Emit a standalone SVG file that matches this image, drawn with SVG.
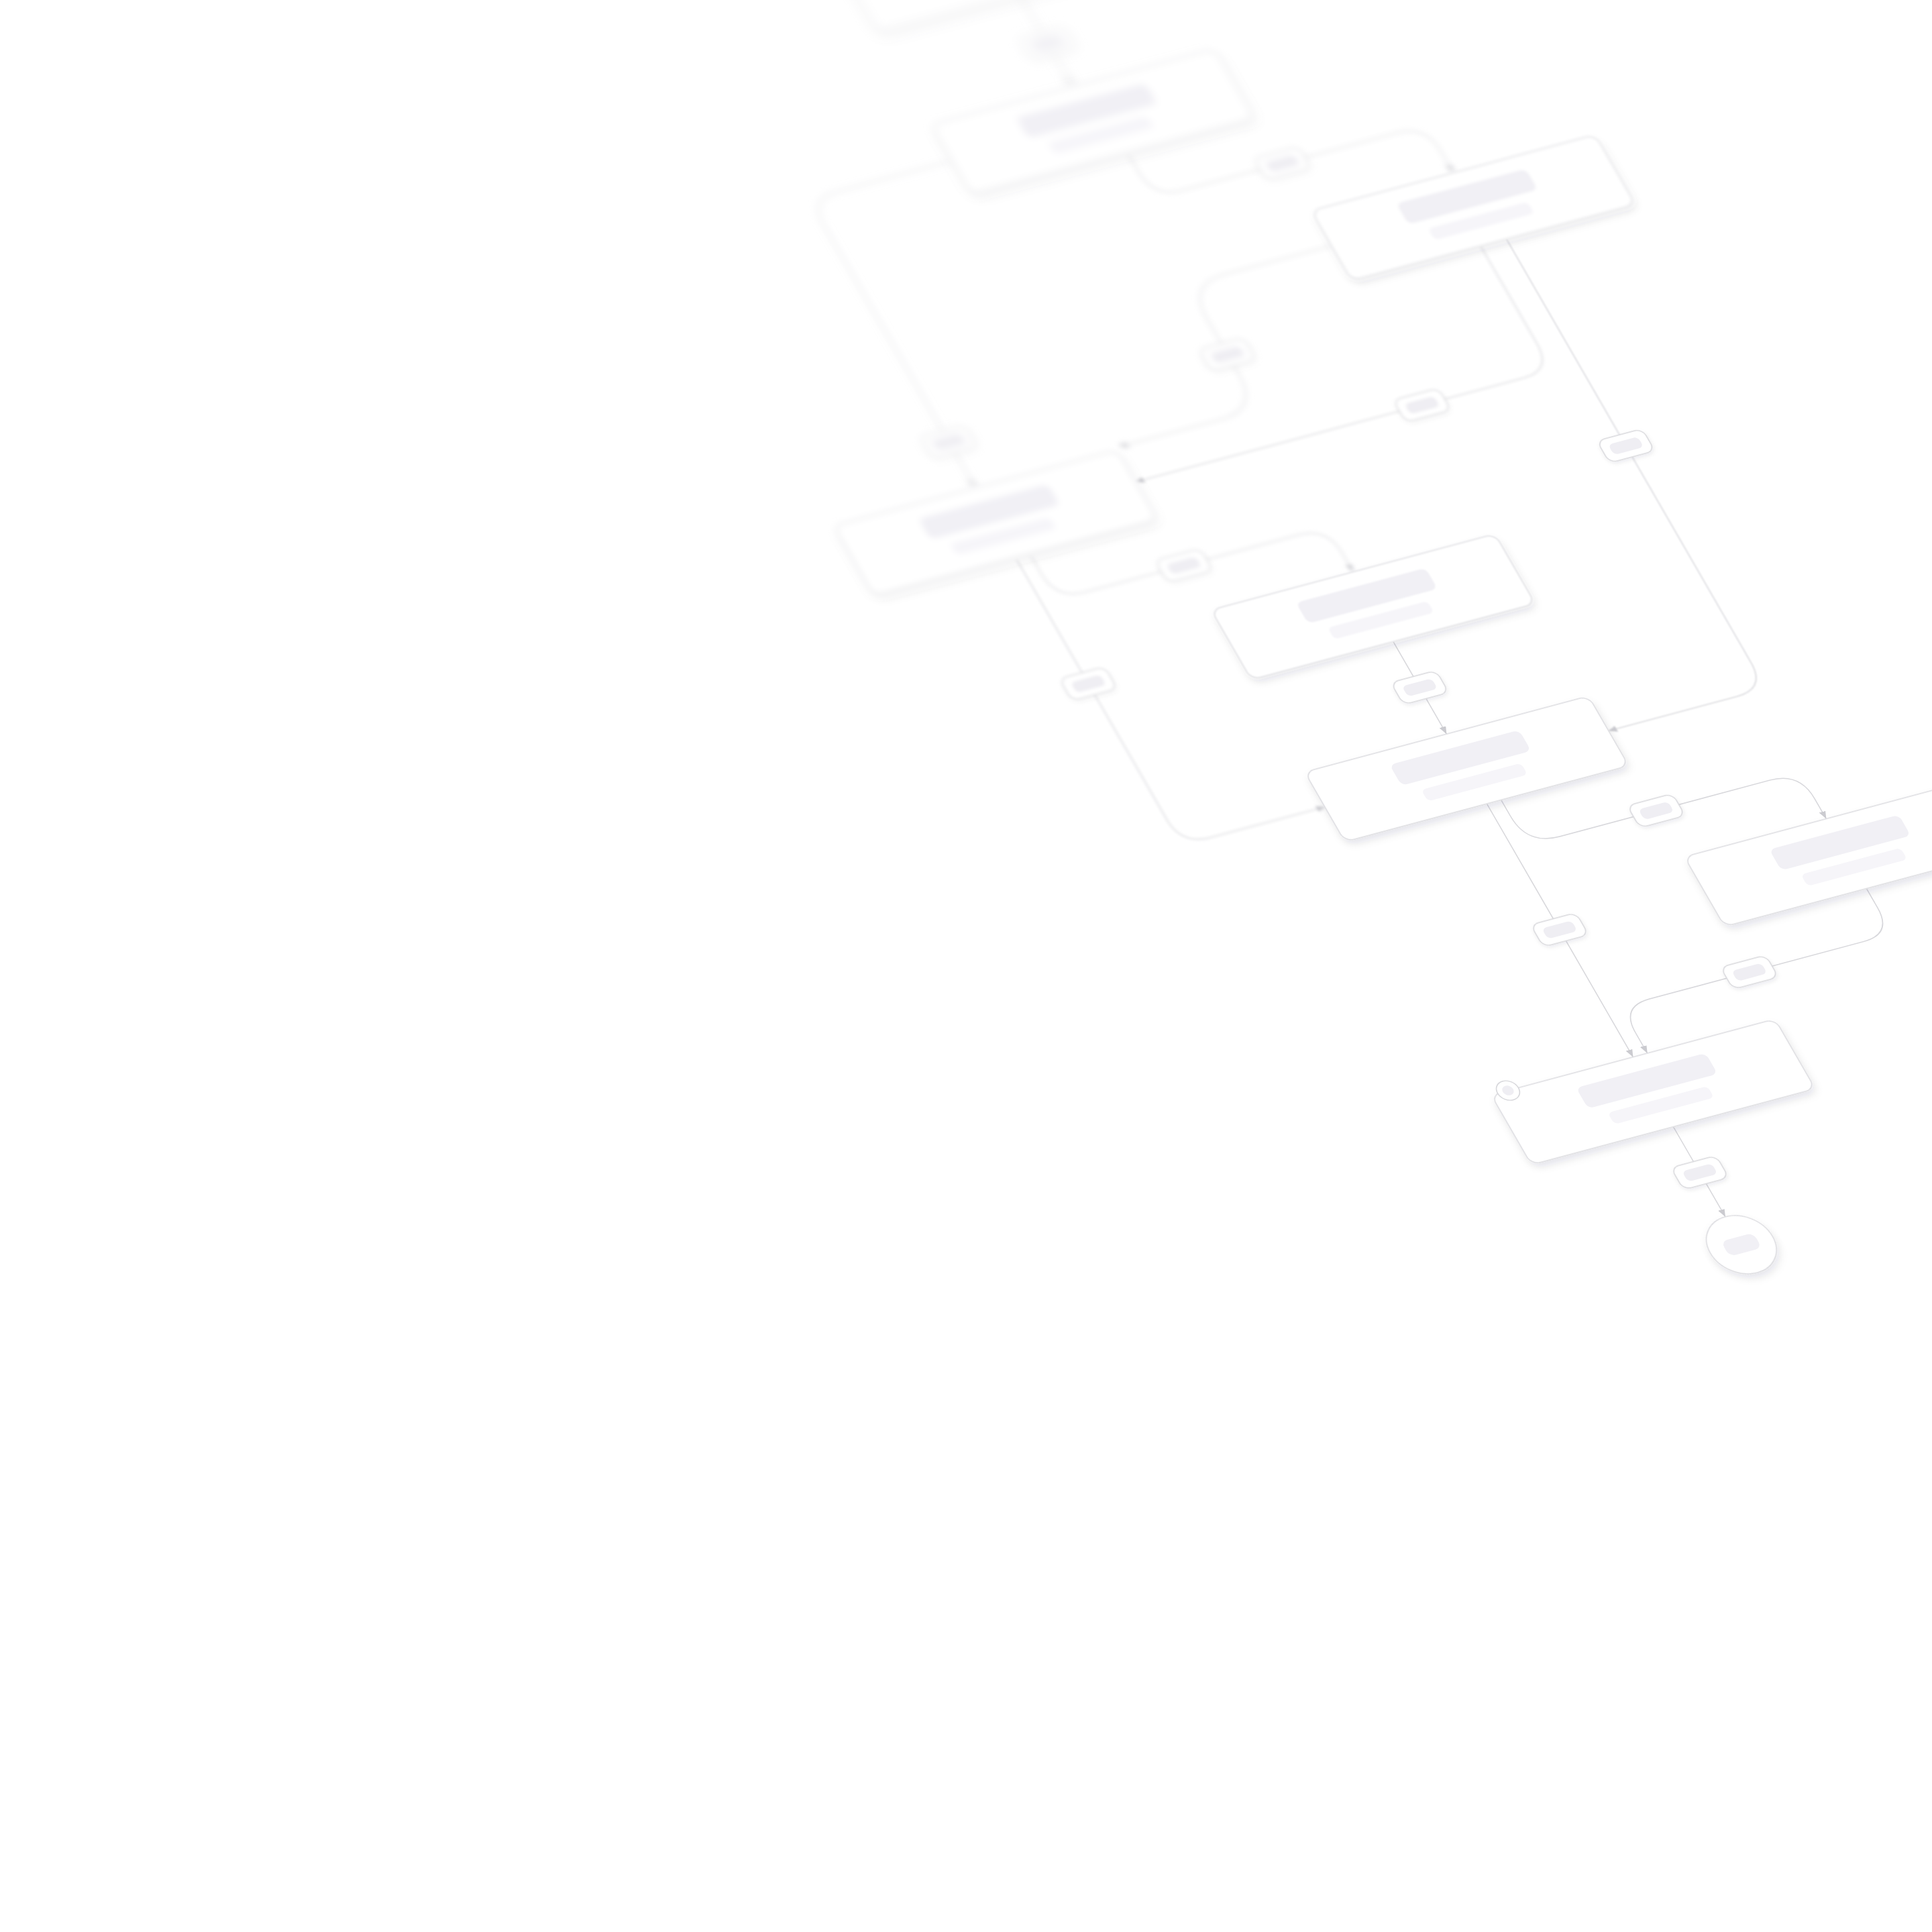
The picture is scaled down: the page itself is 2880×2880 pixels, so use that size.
<svg xmlns="http://www.w3.org/2000/svg" width="2880" height="2880" viewBox="0 0 2880 2880">
<defs>
<style>
.box{fill:#ffffff;stroke:#dcdce0;stroke-width:1.6}
.t1{fill:#f1f0f5}
.t2{fill:#f6f5f9}
.edge{fill:none;stroke:#d8d8dc;stroke-width:1.6;marker-end:url(#arr)}
.pill{fill:#ffffff;stroke:#d8d8dc;stroke-width:1.6}
.pin{fill:#efeef3}
</style>
<marker id="arr" viewBox="0 0 12 10" refX="12" refY="5" markerWidth="12" markerHeight="10" markerUnits="userSpaceOnUse" orient="auto"><path d="M0,0 L12,5 L0,10 z" fill="#cbcbd0"/></marker>
<filter id="sh" x="-10%" y="-30%" width="120%" height="190%"><feDropShadow dx="0" dy="7" stdDeviation="6" flood-color="#1c1c30" flood-opacity="0.1"/></filter>
<filter id="shp" x="-40%" y="-60%" width="180%" height="240%"><feDropShadow dx="0" dy="3" stdDeviation="3" flood-color="#1c1c30" flood-opacity="0.08"/></filter>
<filter id="b1" filterUnits="userSpaceOnUse" x="500" y="100" width="1800" height="2600"><feGaussianBlur stdDeviation="1"/></filter>
<filter id="b2" filterUnits="userSpaceOnUse" x="500" y="100" width="1800" height="2600"><feGaussianBlur stdDeviation="2"/></filter>
<filter id="b3" filterUnits="userSpaceOnUse" x="500" y="100" width="1800" height="2600"><feGaussianBlur stdDeviation="3"/></filter>
<filter id="b4" filterUnits="userSpaceOnUse" x="500" y="100" width="1800" height="2600"><feGaussianBlur stdDeviation="4"/></filter>
<filter id="b5" filterUnits="userSpaceOnUse" x="500" y="100" width="1800" height="2600"><feGaussianBlur stdDeviation="5"/></filter>
<filter id="b6" filterUnits="userSpaceOnUse" x="500" y="100" width="1800" height="2600"><feGaussianBlur stdDeviation="6"/></filter>
<filter id="b8" filterUnits="userSpaceOnUse" x="500" y="100" width="1800" height="2600"><feGaussianBlur stdDeviation="8"/></filter>
</defs>
<rect width="2880" height="2880" fill="#ffffff"/>
<g transform="matrix(0.9659 -0.2588 0.5 0.866 0 0)">
 <g id="connectors">
  <path class="edge" filter="url(#b8)" d="M1367,400 V558"/>
  <path class="edge" filter="url(#b4)" d="M1389,681 V711 Q1389,756 1434,756 H1764 Q1809,756 1809,801 V838"/>
  <path class="edge" filter="url(#b6)" d="M1148,620 H972 Q927,620 927,665 V1117"/>
  <path class="edge" filter="url(#b4)" d="M1590,898 H1427 Q1367,898 1367,958 V1053 Q1367,1113 1307,1113 H1151"/>
  <path class="edge" filter="url(#b2)" d="M1789,958 V1127 Q1789,1172 1744,1172 H1146"/>
  <path class="edge" filter="url(#b1)" d="M1829,958 V1687 Q1829,1732 1784,1732 H1586"/>
  <path class="edge" filter="url(#b3)" d="M949,1240 V1271 Q949,1316 994,1316 H1322 Q1367,1316 1367,1361 V1393"/>
  <path class="edge" filter="url(#b2)" d="M927,1240 V1687 Q927,1732 972,1732 H1148"/>
  <path class="edge" d="M1367,1513 V1672"/>
  <path class="edge" d="M1389,1792 V1820 Q1389,1870 1439,1870 H1764 Q1809,1870 1809,1915 V1950"/>
  <path class="edge" d="M1367,1792 V2228"/>
  <path class="edge" d="M1809,2070 V2103 Q1809,2148 1764,2148 H1434 Q1389,2148 1389,2193 V2228"/>
  <path class="edge" d="M1367,2348 V2503"/>
 </g>
 <g id="nodes">
  <g id="node-top" filter="url(#b8)"><rect class="box" filter="url(#sh)" x="1148" y="280" width="438" height="120" rx="14"/><rect class="t1" x="1267" y="303" width="200" height="36" rx="9"/><rect class="t2" x="1290" y="353" width="154" height="20" rx="7"/></g>
  <g id="node-a" filter="url(#b6)"><rect class="box" filter="url(#sh)" x="1148" y="558" width="438" height="120" rx="14"/><rect class="t1" x="1267" y="581" width="200" height="36" rx="9"/><rect class="t2" x="1290" y="631" width="154" height="20" rx="7"/></g>
  <g id="node-b" filter="url(#b2)"><rect class="box" filter="url(#sh)" x="1590" y="838" width="438" height="120" rx="14"/><rect class="t1" x="1709" y="861" width="200" height="36" rx="9"/><rect class="t2" x="1732" y="911" width="154" height="20" rx="7"/></g>
  <g id="node-c" filter="url(#b5)"><rect class="box" filter="url(#sh)" x="708" y="1117" width="438" height="120" rx="14"/><rect class="t1" x="827" y="1140" width="200" height="36" rx="9"/><rect class="t2" x="850" y="1190" width="154" height="20" rx="7"/></g>
  <g id="node-d" filter="url(#b1)"><rect class="box" filter="url(#sh)" x="1148" y="1393" width="438" height="120" rx="14"/><rect class="t1" x="1267" y="1416" width="200" height="36" rx="9"/><rect class="t2" x="1290" y="1466" width="154" height="20" rx="7"/></g>
  <g id="node-e"><rect class="box" filter="url(#sh)" x="1148" y="1672" width="438" height="120" rx="14"/><rect class="t1" x="1267" y="1695" width="200" height="36" rx="9"/><rect class="t2" x="1290" y="1745" width="154" height="20" rx="7"/></g>
  <g id="node-f"><rect class="box" filter="url(#sh)" x="1590" y="1950" width="438" height="120" rx="14"/><rect class="t1" x="1709" y="1973" width="200" height="36" rx="9"/><rect class="t2" x="1732" y="2023" width="154" height="20" rx="7"/></g>
  <g id="node-h"><rect class="box" filter="url(#sh)" x="1148" y="2228" width="438" height="120" rx="14"/><rect class="t1" x="1267" y="2251" width="200" height="36" rx="9"/><rect class="t2" x="1290" y="2301" width="154" height="20" rx="7"/><circle class="pill" cx="1174" cy="2228" r="16"/><circle class="pin" cx="1174" cy="2228" r="8"/></g>
  <g id="node-end"><circle class="box" filter="url(#sh)" cx="1367" cy="2551" r="48"/><rect class="t1" x="1342" y="2538" width="50" height="26" rx="10"/></g>
 </g>
 <g id="edge-labels">
  <g id="lbl-1" filter="url(#b8)"><rect class="pill" filter="url(#shp)" x="1332" y="464" width="70" height="38" rx="12"/><rect class="pin" x="1344" y="474" width="46" height="18" rx="7"/></g>
  <g id="lbl-2" filter="url(#b5)"><rect class="pill" filter="url(#shp)" x="1553" y="737" width="70" height="38" rx="12"/><rect class="pin" x="1565" y="747" width="46" height="18" rx="7"/></g>
  <g id="lbl-3" filter="url(#b6)"><rect class="pill" filter="url(#shp)" x="892" y="1019" width="70" height="38" rx="12"/><rect class="pin" x="904" y="1029" width="46" height="18" rx="7"/></g>
  <g id="lbl-4" filter="url(#b4)"><rect class="pill" filter="url(#shp)" x="1332" y="1000" width="70" height="38" rx="12"/><rect class="pin" x="1344" y="1010" width="46" height="18" rx="7"/></g>
  <g id="lbl-5" filter="url(#b2)"><rect class="pill" filter="url(#shp)" x="1553" y="1153" width="70" height="38" rx="12"/><rect class="pin" x="1565" y="1163" width="46" height="18" rx="7"/></g>
  <g id="lbl-6"><rect class="pill" filter="url(#shp)" x="1794" y="1295" width="70" height="38" rx="12"/><rect class="pin" x="1806" y="1305" width="46" height="18" rx="7"/></g>
  <g id="lbl-7" filter="url(#b3)"><rect class="pill" filter="url(#shp)" x="1111" y="1297" width="70" height="38" rx="12"/><rect class="pin" x="1123" y="1307" width="46" height="18" rx="7"/></g>
  <g id="lbl-8" filter="url(#b2)"><rect class="pill" filter="url(#shp)" x="892" y="1435" width="70" height="38" rx="12"/><rect class="pin" x="904" y="1445" width="46" height="18" rx="7"/></g>
  <g id="lbl-9"><rect class="pill" filter="url(#shp)" x="1332" y="1573" width="70" height="38" rx="12"/><rect class="pin" x="1344" y="1583" width="46" height="18" rx="7"/></g>
  <g id="lbl-10"><rect class="pill" filter="url(#shp)" x="1553" y="1851" width="70" height="38" rx="12"/><rect class="pin" x="1565" y="1861" width="46" height="18" rx="7"/></g>
  <g id="lbl-11"><rect class="pill" filter="url(#shp)" x="1332" y="1990" width="70" height="38" rx="12"/><rect class="pin" x="1344" y="2000" width="46" height="18" rx="7"/></g>
  <g id="lbl-12"><rect class="pill" filter="url(#shp)" x="1553" y="2129" width="70" height="38" rx="12"/><rect class="pin" x="1565" y="2139" width="46" height="18" rx="7"/></g>
  <g id="lbl-13"><rect class="pill" filter="url(#shp)" x="1332" y="2408" width="70" height="38" rx="12"/><rect class="pin" x="1344" y="2418" width="46" height="18" rx="7"/></g>
 </g>
</g>
</svg>
